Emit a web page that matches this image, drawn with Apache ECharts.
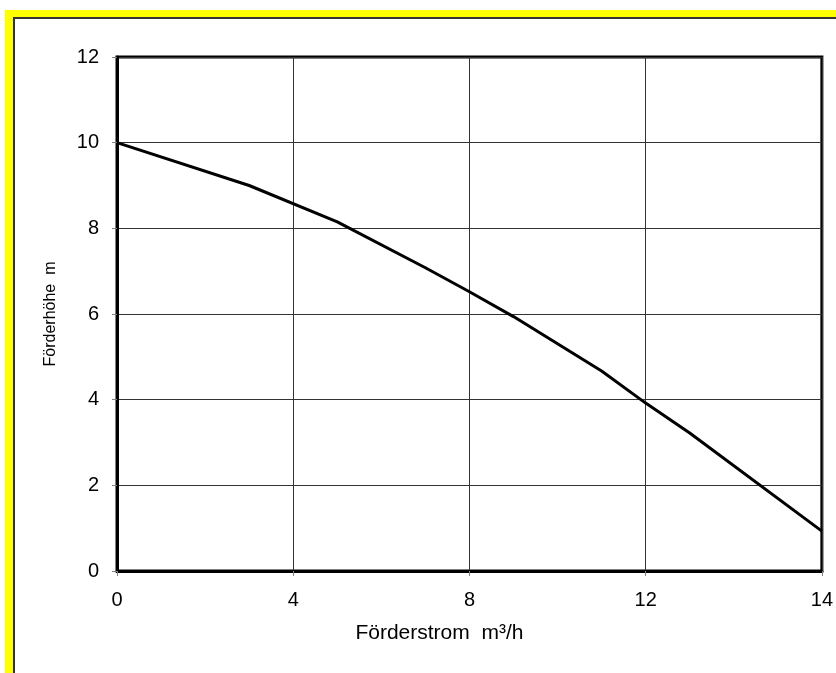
<!DOCTYPE html>
<html>
<head>
<meta charset="utf-8">
<script src="https://cdn.jsdelivr.net/npm/echarts@6/dist/echarts.min.js"></script>
<style>
html,body{margin:0;padding:0;background:#fff;}
#chart{width:836px;height:673px;}
</style>
</head>
<body>
<div id="chart"></div>
<script>
// Tick labels of the flow axis (evenly spaced on the picture)
var xTickLabels = [0, 4, 8, 12, 14];
var yTickLabels = [0, 2, 4, 6, 8, 10, 12];
// Pump curve: flow (m³/h) and head (m)
var flow = [0, 3, 5, 7, 8, 9, 11, 12, 12.5, 14];
var head = [10, 9.0, 8.15, 7.08, 6.52, 5.94, 4.67, 3.92, 3.22, 0.93];

// piecewise position of a flow value on the evenly spaced tick axis
function flowToPos(f) {
  for (var i = 0; i < xTickLabels.length - 1; i++) {
    var a = xTickLabels[i], b = xTickLabels[i + 1];
    if (f <= b || i === xTickLabels.length - 2) {
      return i + (f - a) / (b - a);
    }
  }
  return 0;
}
var lineData = flow.map(function (f, i) { return [flowToPos(f), head[i]]; });

var chart = echarts.init(document.getElementById('chart'), null, {renderer: 'canvas'});
var font = 'Liberation Sans, Arial, sans-serif';
chart.setOption({
  animation: false,
  backgroundColor: '#ffffff',
  grid: {
    left: 117, top: 57, right: 12, bottom: 102,
    show: true, borderColor: '#000', borderWidth: 3, backgroundColor: 'transparent'
  },
  xAxis: {
    type: 'value', min: 0, max: xTickLabels.length - 1, interval: 1,
    name: 'Förderstrom  m³/h', nameLocation: 'middle', nameGap: 52,
    nameTextStyle: {fontFamily: font, fontSize: 21, color: '#000', padding: [0, 60, 0, 0]},
    axisLine: {show: true, lineStyle: {color: '#000', width: 3}},
    axisTick: {show: true, inside: false, length: 5, lineStyle: {color: '#808080', width: 1}},
    axisLabel: {
      margin: 19, fontFamily: font, fontSize: 20, color: '#000',
      formatter: function (v) { return String(xTickLabels[Math.round(v)]); }
    },
    splitLine: {show: true, lineStyle: {color: '#333', width: 1}}
  },
  yAxis: {
    type: 'value', min: yTickLabels[0], max: yTickLabels[yTickLabels.length - 1], interval: 2,
    name: 'Förderhöhe  m', nameLocation: 'middle', nameGap: 58, nameRotate: 90,
    nameTextStyle: {fontFamily: font, fontSize: 16, color: '#000'},
    axisLine: {show: true, lineStyle: {color: '#000', width: 3}},
    axisTick: {show: true, inside: false, length: 5, lineStyle: {color: '#808080', width: 1}},
    axisLabel: {margin: 18, fontFamily: font, fontSize: 20, color: '#000'},
    splitLine: {show: true, lineStyle: {color: '#333', width: 1}}
  },
  series: [{
    type: 'line', data: lineData, showSymbol: false, symbol: 'none',
    lineStyle: {color: '#000', width: 3}, z: 5, clip: false
  }],
  graphic: [
    {type: 'rect', shape: {x: 5, y: 10, width: 831, height: 7}, style: {fill: '#ffff00'}, silent: true},
    {type: 'rect', shape: {x: 5, y: 10, width: 8, height: 663}, style: {fill: '#ffff00'}, silent: true},
    {type: 'rect', shape: {x: 13, y: 17, width: 823, height: 2}, style: {fill: '#333333'}, silent: true},
    {type: 'rect', shape: {x: 13, y: 17, width: 2, height: 656}, style: {fill: '#333333'}, silent: true}
  ]
});
</script>
</body>
</html>
